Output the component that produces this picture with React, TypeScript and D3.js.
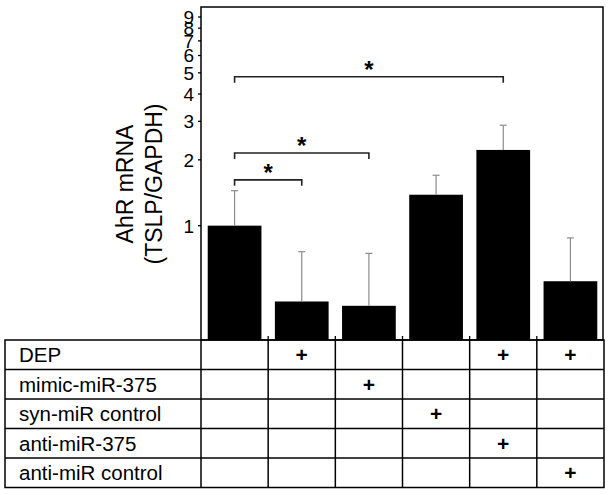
import React from 'react';
import * as d3 from 'd3';

// groups in table order
const groups = ['g1', 'g2', 'g3', 'g4', 'g5', 'g6'];
const means = [1.0, 0.45, 0.43, 1.385, 2.22, 0.557];
const errTops = [1.445, 0.76, 0.747, 1.7, 2.88, 0.879];
const yTicks = [1, 2, 3, 4, 5, 6, 7, 8, 9];

const rowLabels = ['DEP', 'mimic-miR-375', 'syn-miR control', 'anti-miR-375', 'anti-miR control'];
const plusMarks = [
  [0, 1, 0, 0, 1, 1],
  [0, 0, 1, 0, 0, 0],
  [0, 0, 0, 1, 0, 0],
  [0, 0, 0, 0, 1, 0],
  [0, 0, 0, 0, 0, 1],
];

// significance brackets: from group, to group, height in data units
const brackets = [
  { from: 0, to: 1, level: 1.62 },
  { from: 0, to: 2, level: 2.15 },
  { from: 0, to: 4, level: 4.8 },
];

const W = 612;
const H = 495;
const plot = { left: 201, right: 604, top: 7, bottom: 340 };
const table = { left: 5, top: 340, rowH: 29.5 };
const font = 'Arial, "Liberation Sans", sans-serif';

export default function App() {
  const x = d3.scaleBand<string>()
    .domain(groups)
    .range([plot.left, plot.right])
    .paddingInner(0.2)
    .paddingOuter(0.1);

  const y = d3.scaleLog()
    .domain([0.3, 10])
    .range([plot.bottom, plot.top]);

  const step = x.step();
  const colEdges = groups.map((_, i) => plot.left + i * step);
  const tableBottom = table.top + rowLabels.length * table.rowH;
  const cx = (i: number) => (x(groups[i]) as number) + x.bandwidth() / 2;

  return (
    <svg width={W} height={H} style={{ position: 'absolute', left: 0, top: 0, background: '#fff' }}
      fontFamily={font}>
      {/* bars */}
      {means.map((m, i) => (
        <rect key={'b' + i} x={x(groups[i])} y={y(m)} width={x.bandwidth()}
          height={plot.bottom - y(m)} fill="#000" />
      ))}
      {/* error bars */}
      {errTops.map((e, i) => (
        <g key={'e' + i} stroke="#8a8a8a" strokeWidth={1.2}>
          <line x1={cx(i)} x2={cx(i)} y1={y(means[i])} y2={y(e)} />
          <line x1={cx(i) - 3.5} x2={cx(i) + 3.5} y1={y(e)} y2={y(e)} />
        </g>
      ))}

      {/* frame */}
      <rect x={plot.left} y={plot.top} width={plot.right - plot.left - 1}
        height={plot.bottom - plot.top} fill="none" stroke="#000" strokeWidth={1.5} />

      {/* y axis ticks */}
      {yTicks.map(t => (
        <g key={'t' + t}>
          <line x1={plot.left - 3} x2={plot.left} y1={y(t)} y2={y(t)} stroke="#000" strokeWidth={1.3} />
          <text x={plot.left - 7} y={y(t)} dy="0.36em" textAnchor="end" fontSize={19}>{t}</text>
        </g>
      ))}

      {/* y title */}
      <g transform={`translate(133, 184) rotate(-90)`}>
        <text x={0} y={0} textAnchor="middle" fontSize={23}>AhR mRNA</text>
        <text x={0} y={29} textAnchor="middle" fontSize={23}>(TSLP/GAPDH)</text>
      </g>

      {/* significance brackets */}
      {brackets.map((b, i) => {
        const yy = y(b.level);
        const x1 = cx(b.from);
        const x2 = cx(b.to);
        return (
          <g key={'s' + i}>
            <path d={`M${x1},${yy + 6}V${yy}H${x2}V${yy + 6}`} fill="none" stroke="#222" strokeWidth={1.6} />
            <text x={(x1 + x2) / 2} y={yy + 1} textAnchor="middle" fontSize={24} fontWeight="bold">*</text>
          </g>
        );
      })}

      {/* small x ticks between bars */}
      {colEdges.slice(1).map((cxE, i) => (
        <line key={'xt' + i} x1={cxE} x2={cxE} y1={plot.bottom - 4} y2={plot.bottom} stroke="#000" strokeWidth={1.3} />
      ))}

      {/* condition table */}
      <g stroke="#000" strokeWidth={1.5} fill="none">
        <rect x={table.left} y={table.top} width={plot.right - table.left} height={tableBottom - table.top} />
        {rowLabels.slice(1).map((_, r) => (
          <line key={'h' + r} x1={table.left} x2={plot.right} y1={table.top + (r + 1) * table.rowH}
            y2={table.top + (r + 1) * table.rowH} />
        ))}
        {colEdges.map((c, i) => (
          <line key={'v' + i} x1={c} x2={c} y1={table.top} y2={tableBottom} />
        ))}
      </g>
      {rowLabels.map((lab, r) => (
        <text key={'l' + r} x={table.left + 14} y={table.top + (r + 0.5) * table.rowH} dy="0.36em"
          fontSize={20.5}>{lab}</text>
      ))}
      {plusMarks.map((row, r) => row.map((v, c) => v ? (
        <text key={`p${r}-${c}`} x={colEdges[c] + step / 2} y={table.top + (r + 0.5) * table.rowH}
          dy="0.36em" textAnchor="middle" fontSize={21} fontWeight="bold">+</text>
      ) : null))}
    </svg>
  );
}
